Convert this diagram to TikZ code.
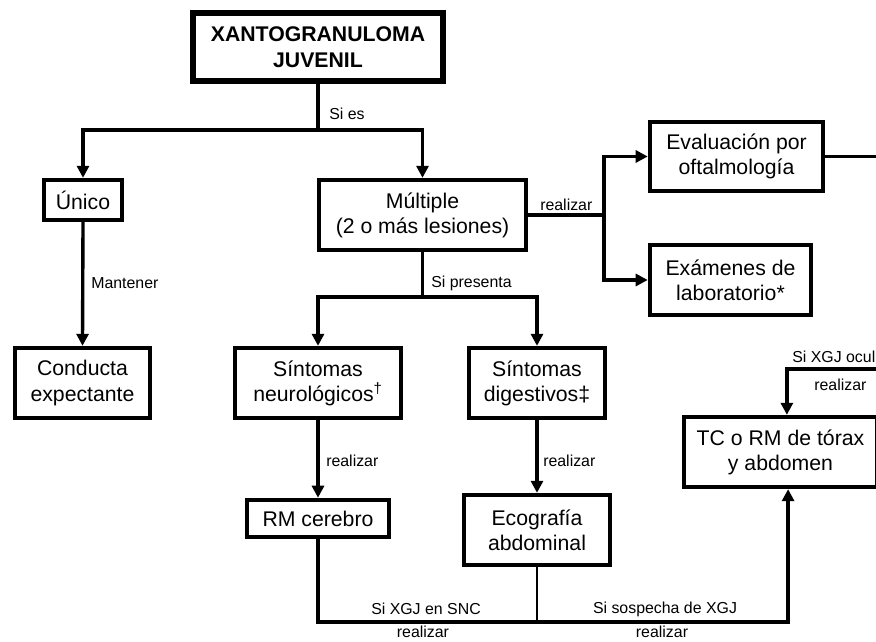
\documentclass[tikz,border=0pt]{standalone}
\usepackage{fontspec}
\setmainfont{Liberation Sans}
\usetikzlibrary{arrows.meta}

\begin{document}
\begin{tikzpicture}[
  x=0.025cm, y=-0.025cm,
  box/.style={draw, line width=2.8pt, align=center, inner sep=0pt,
    font=\fontsize{15.1}{17.8}\selectfont},
  lab/.style={font=\fontsize{11.3}{13}\selectfont, inner sep=0pt},
  link/.style={draw, line width=2.4pt},
  arrowlink/.style={link, -{Triangle[length=3mm, width=3mm]}}
]
\useasboundingbox (0,0) rectangle (876,642);
\clip (0,0) rectangle (876,642);

% Root node
\node[box, line width=4.3pt, font=\bfseries\fontsize{15.1}{18.3}\selectfont,
  minimum width=6.25cm, minimum height=1.7cm] (xgj) at (318,47) {XANTOGRANULOMA\\JUVENIL};

% Boxes
\node[box, minimum width=1.96cm, minimum height=1.01cm] (unico) at (83,200) {Único};
\node[box, minimum width=5.19cm, minimum height=1.76cm] (multiple) at (422.5,215) {Múltiple\\(2 o más lesiones)};
\node[box, minimum width=4.34cm, minimum height=1.74cm] (oftal) at (736.5,156.5) {Evaluación por\\oftalmología};
\node[box, minimum width=4.04cm, minimum height=1.76cm] (lab) at (730.5,280) {Exámenes de\\laboratorio*};
\node[box, minimum width=3.39cm, minimum height=1.76cm] (conducta) at (82.5,383) {Conducta\\expectante};
\node[box, minimum width=4.16cm, minimum height=1.76cm] (neuro) at (318,383) {Síntomas\\neurológicos\textsuperscript{†}};
\node[box, minimum width=3.41cm, minimum height=1.76cm] (digest) at (537,383) {Síntomas\\digestivos‡};
\node[box, minimum width=3.56cm, minimum height=0.94cm] (rm) at (318,518.5) {RM cerebro};
\node[box, minimum width=3.66cm, minimum height=1.76cm] (eco) at (537,530) {Ecografía\\abdominal};
\node[box, minimum width=4.83cm, minimum height=1.76cm] (tc) at (780.5,452) {TC o RM de tórax\\y abdomen};

% Junctions
\coordinate (jtop) at (318,130);
\coordinate (jreal) at (604,215);
\coordinate (jpres) at (422.5,297);
\coordinate (jbot) at (537,622);
\coordinate (oftalout) at (890,156.5);
\coordinate (ocularin) at (890,369);

% Connectors
\draw[link] (xgj.south) -- (jtop);
\draw[arrowlink] (jtop) -| (unico.north);
\draw[arrowlink] (jtop) -| (multiple.north);
\draw[link] (multiple.east) -- (jreal);
\draw[arrowlink] (jreal) |- (oftal.west);
\draw[arrowlink] (jreal) |- (lab.west);
\draw[link, line width=2.2pt] (oftal.east) -- (oftalout);
\draw[arrowlink] (unico.south) -- (conducta.north);
\draw[link] (multiple.south) -- (jpres);
\draw[arrowlink] (jpres) -| (neuro.north);
\draw[arrowlink] (jpres) -| (digest.north);
\draw[arrowlink] (neuro.south) -- (rm.north);
\draw[arrowlink] (digest.south) -- (eco.north);
\draw[link] (rm.south) |- (jbot);
\draw[link, line width=1.3pt] (eco.south) -- (jbot);
\draw[arrowlink, line width=3pt] (jbot) -| ([xshift=0.19cm]tc.south);
\draw[arrowlink] (ocularin) -| ([xshift=0.16cm]tc.north);

% Labels
\node[lab, anchor=west] (sies) at (329,114) {Si es};
\node[lab, anchor=west] (realizarA) at (540,205) {realizar};
\node[lab, anchor=west] (mantener) at (91,283) {Mantener};
\node[lab, anchor=west] (sipresenta) at (431,283) {Si presenta};
\node[lab, anchor=west] (realizarB) at (326,461) {realizar};
\node[lab, anchor=west] (realizarC) at (543,461) {realizar};
\node[lab] (sisnc) at (426,609) {Si XGJ en SNC};
\node[lab] (realizarD) at (423,632) {realizar};
\node[lab] (sisospecha) at (665,609) {Si sospecha de XGJ};
\node[lab] (realizarE) at (662,632) {realizar};
\node[lab, anchor=west] (siocular) at (792,357) {Si XGJ ocular};
\node[lab, anchor=west] (realizarF) at (814,385) {realizar};
\end{tikzpicture}
\end{document}
